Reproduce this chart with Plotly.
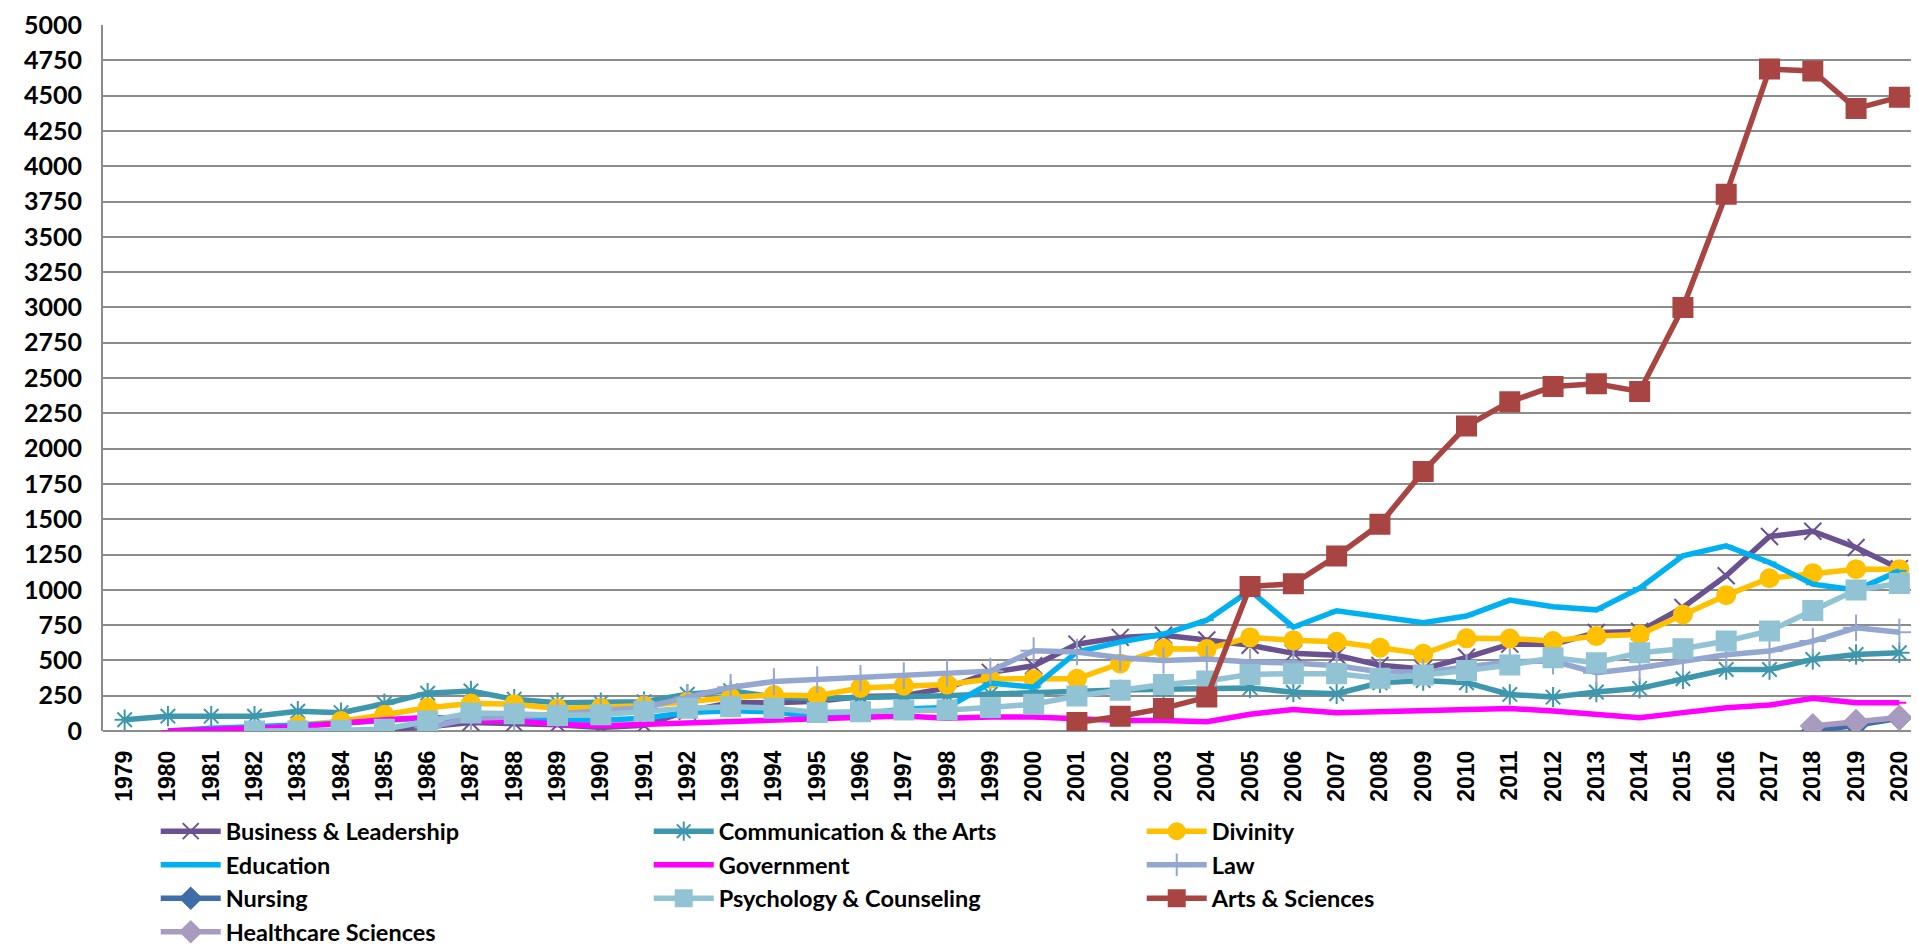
import plotly.graph_objects as go

years = [str(y) for y in range(1979, 2021)]

# values per series, first year given separately (None before it)
business_start = 1985
business = [10, 30, 60, 55, 45, 25, 40, 140, 200, 200, 210, 245, 250, 305, 415, 462,
            615, 663, 678, 645, 607, 550, 537, 465, 440, 522, 615, 612, 698, 705, 875,
            1100, 1378, 1415, 1300, 1150]

communication_start = 1979
communication = [80, 105, 105, 105, 140, 130, 193, 268, 283, 225, 200, 200, 208, 260, 285,
                 240, 228, 238, 240, 250, 262, 274, 280, 290, 296, 305, 305, 275, 264, 342,
                 358, 342, 259, 240, 276, 302, 370, 436, 436, 507, 542, 554]

divinity_start = 1983
divinity = [40, 70, 115, 165, 195, 190, 160, 165, 178, 207, 238, 255, 250, 305, 321, 330,
            369, 366, 370, 478, 583, 580, 663, 642, 632, 590, 547, 656, 655, 637, 672, 684,
            825, 962, 1082, 1118, 1146, 1146]

education_start = 1980
education = [0, 20, 30, 38, 55, 75, 95, 90, 85, 75, 76, 90, 131, 143, 136, 95, 119, 155,
             167, 340, 310, 560, 630, 687, 785, 995, 735, 852, 807, 767, 814, 927, 880,
             858, 1012, 1240, 1311, 1193, 1040, 998, 1134]

government_start = 1980
government = [0, 10, 20, 30, 55, 80, 95, 72, 70, 48, 38, 48, 57, 67, 76, 83, 90, 107, 90,
              100, 100, 83, 75, 75, 66, 118, 153, 130, 137, 146, 153, 160, 141, 118, 94,
              130, 165, 184, 231, 200, 200]

law_start = 1986
law = [25, 90, 100, 120, 140, 167, 238, 310, 350, 364, 374, 393, 410, 424, 569, 560, 519,
       500, 510, 488, 482, 462, 420, 417, 453, 490, 495, 413, 448, 495, 540, 566, 637,
       731, 700]

nursing_start = 2018
nursing = [0, 40, 90]

psychology_start = 1982
psychology = [0, 0, 5, 12, 71, 128, 123, 110, 115, 140, 162, 171, 162, 131, 136, 148, 148,
              167, 190, 248, 288, 330, 354, 401, 406, 406, 373, 396, 429, 467, 519, 483,
              554, 583, 637, 708, 854, 998, 1045]

arts_start = 2001
arts = [60, 105, 160, 240, 1024, 1043, 1239, 1465, 1837, 2160, 2332, 2440, 2459, 2405,
        3000, 3802, 4688, 4674, 4408, 4489]

healthcare_start = 2018
healthcare = [35, 65, 95]


def pad(start, values):
    return [None] * (start - 1979) + values


series = [
    ("Business & Leadership", pad(business_start, business), "#6A5291", "x-thin", 17),
    ("Communication & the Arts", pad(communication_start, communication), "#3E97AD", "asterisk", 17),
    ("Divinity", pad(divinity_start, divinity), "#FFC000", "circle", 18),
    ("Education", pad(education_start, education), "#00B0F0", "line-ew", 10),
    ("Government", pad(government_start, government), "#FF00FF", "line-ew", 10),
    ("Law", pad(law_start, law), "#93A7D1", "cross-thin", 19),
    ("Nursing", pad(nursing_start, nursing), "#3F6DAA", "diamond", 17),
    ("Psychology & Counseling", pad(psychology_start, psychology), "#92C3D4", "square", 19),
    ("Arts & Sciences", pad(arts_start, arts), "#A84542", "square", 19),
    ("Healthcare Sciences", pad(healthcare_start, healthcare), "#A99AC0", "diamond", 18),
]

fig = go.Figure()
for name, vals, color, symbol, size in series:
    fig.add_trace(go.Scatter(
        x=years, y=vals, name=name, mode="lines+markers",
        line=dict(color=color, width=5.5),
        marker=dict(symbol=symbol, size=size, color=color,
                    line=dict(color=color, width=2)),
    ))

fig.update_layout(
    width=1919, height=948,
    margin=dict(l=95, r=6, t=17, b=225, autoexpand=False),
    plot_bgcolor="white", paper_bgcolor="white",
    font=dict(family="Lato, sans-serif", color="black"),
    showlegend=True,
    legend=dict(
        orientation="h", x=0.029, xanchor="left", y=-0.111, yanchor="top",
        itemwidth=60, entrywidth=418,
        font=dict(family="Lato", size=23.5, color="black", weight="bold"),
        bgcolor="rgba(0,0,0,0)",
    ),
)
fig.update_xaxes(
    type="category", range=[-0.5, 41.5], tickangle=-90,
    tickfont=dict(family="Liberation Sans, Arial", size=23, color="black", weight="bold"),
    showgrid=False, showline=False, ticks="", ticklabelstandoff=14,
)
fig.update_yaxes(
    range=[0, 5000], dtick=250, tick0=0,
    tickfont=dict(family="Lato", size=25, color="black", weight="bold"),
    showgrid=True, gridcolor="#8C8C8C", gridwidth=2,
    showline=True, linecolor="#8C8C8C", linewidth=2,
    zeroline=True, zerolinecolor="#8C8C8C", zerolinewidth=2,
    ticks="", ticklabelstandoff=14,
)

fig.write_html("out.html")
